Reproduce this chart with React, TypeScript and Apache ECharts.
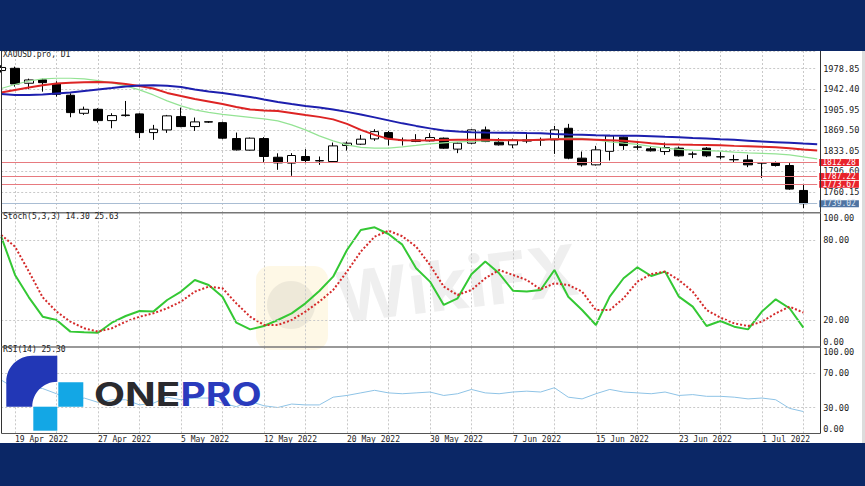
import React, { useEffect, useRef } from 'react';
import * as echarts from 'echarts';

// ---------- data ----------
const dates = [
  '18 Apr 2022', '19 Apr 2022', '20 Apr 2022', '21 Apr 2022', '22 Apr 2022', '25 Apr 2022', '26 Apr 2022', '27 Apr 2022', '28 Apr 2022', '29 Apr 2022',
  '2 May 2022', '3 May 2022', '4 May 2022', '5 May 2022', '6 May 2022', '8 May 2022', '9 May 2022', '10 May 2022', '11 May 2022', '12 May 2022',
  '13 May 2022', '16 May 2022', '17 May 2022', '18 May 2022', '19 May 2022', '20 May 2022', '23 May 2022', '24 May 2022', '25 May 2022', '26 May 2022',
  '27 May 2022', '30 May 2022', '31 May 2022', '1 Jun 2022', '2 Jun 2022', '3 Jun 2022', '6 Jun 2022', '7 Jun 2022', '8 Jun 2022', '9 Jun 2022',
  '10 Jun 2022', '13 Jun 2022', '14 Jun 2022', '15 Jun 2022', '16 Jun 2022', '17 Jun 2022', '20 Jun 2022', '21 Jun 2022', '22 Jun 2022', '23 Jun 2022',
  '24 Jun 2022', '27 Jun 2022', '28 Jun 2022', '29 Jun 2022', '30 Jun 2022', '1 Jul 2022', '4 Jul 2022', '5 Jul 2022', '6 Jul 2022', '7 Jul 2022',
];

const opens = [
  1975.5, 1979.5, 1953.0, 1959.0, 1951.7, 1931.6, 1899.6, 1906.7, 1886.6, 1895.5,
  1898.5, 1865.3, 1870.0, 1893.7, 1876.0, 1884.5, 1883.0, 1854.7, 1834.1, 1854.7,
  1821.5, 1811.1, 1822.8, 1815.0, 1813.9, 1842.3, 1844.7, 1854.1, 1865.3, 1851.2,
  1849.6, 1850.6, 1855.4, 1835.9, 1846.5, 1870.1, 1848.3, 1843.5, 1850.2, 1852.0,
  1852.4, 1873.0, 1819.9, 1808.0, 1832.0, 1857.2, 1839.4, 1836.4, 1831.6, 1837.6,
  1827.0, 1837.6, 1822.1, 1817.0, 1816.8, 1811.2, 1812.1, 1806.8, 1762.5,
];
const closes = [
  1981.0, 1951.7, 1958.8, 1954.0, 1933.4, 1900.8, 1906.7, 1886.6, 1895.5, 1896.5,
  1865.3, 1871.3, 1895.0, 1876.0, 1884.3, 1884.0, 1855.4, 1834.6, 1855.4, 1822.8,
  1811.5, 1824.6, 1815.7, 1815.6, 1841.7, 1846.5, 1853.6, 1867.0, 1854.1, 1851.7,
  1852.4, 1856.5, 1837.6, 1846.5, 1870.1, 1849.4, 1843.5, 1852.4, 1852.6, 1852.7,
  1870.1, 1819.9, 1808.0, 1834.6, 1859.5, 1842.3, 1839.7, 1832.9, 1838.7, 1824.0,
  1827.3, 1824.0, 1822.4, 1817.3, 1808.0, 1811.5, 1806.8, 1764.9, 1739.02,
];
const lows = [
  1972.0, 1946.9, 1942.3, 1938.0, 1929.2, 1892.6, 1896.7, 1883.0, 1873.0, 1893.5,
  1855.4, 1852.4, 1864.8, 1874.9, 1868.3, 1882.5, 1853.6, 1833.4, 1833.4, 1812.1,
  1799.2, 1788.5, 1811.1, 1808.0, 1812.1, 1833.4, 1843.5, 1850.6, 1842.3, 1842.3,
  1848.3, 1849.4, 1836.4, 1828.8, 1844.7, 1848.3, 1842.3, 1837.6, 1846.5, 1841.7,
  1827.5, 1818.0, 1805.0, 1806.8, 1815.7, 1834.6, 1834.6, 1831.6, 1825.8, 1822.8,
  1819.9, 1821.7, 1818.0, 1812.1, 1803.9, 1784.5, 1805.0, 1763.7, 1731.2,
];
const highs = [
  1985.0, 1982.4, 1961.1, 1961.0, 1956.5, 1935.2, 1911.4, 1908.6, 1899.7, 1921.5,
  1899.7, 1879.0, 1896.7, 1909.7, 1892.0, 1885.5, 1884.8, 1865.3, 1856.5, 1857.2,
  1828.5, 1828.8, 1835.9, 1822.8, 1847.6, 1849.4, 1861.2, 1871.3, 1868.3, 1856.5,
  1862.5, 1864.3, 1856.5, 1847.6, 1871.3, 1876.0, 1855.4, 1854.7, 1862.5, 1856.5,
  1877.2, 1880.8, 1831.7, 1841.7, 1861.2, 1858.2, 1846.5, 1840.5, 1847.6, 1840.5,
  1831.6, 1839.4, 1830.5, 1825.8, 1825.8, 1812.0, 1813.9, 1811.1, 1772.6,
];

// moving averages (drawn with a one-bar shift, so they reach one bar past the last candle)
const maSlow = [
  1934.0, 1932.2, 1932.2, 1933.1, 1934.9, 1936.6, 1939.3, 1942.0, 1944.6, 1947.3,
  1949.1, 1949.4, 1948.5, 1946.4, 1942.0, 1938.4, 1935.8, 1932.2, 1928.7, 1924.2,
  1919.8, 1916.2, 1912.7, 1910.0, 1906.5, 1902.1, 1897.6, 1892.3, 1887.0, 1881.7,
  1877.2, 1872.8, 1869.2, 1867.1, 1866.0, 1865.3, 1864.8, 1864.8, 1864.5, 1864.3,
  1863.0, 1861.8, 1861.3, 1860.7, 1860.2, 1859.8, 1859.5, 1858.6, 1857.7, 1857.0,
  1855.9, 1854.9, 1853.6, 1852.4, 1851.0, 1849.4, 1848.3, 1847.1, 1845.8, 1844.8,
];
const maMid = [
  1936.6, 1941.1, 1945.5, 1949.4, 1952.6, 1954.0, 1954.9, 1955.3, 1954.4, 1951.7,
  1948.2, 1943.7, 1935.8, 1930.4, 1925.1, 1920.7, 1916.2, 1910.9, 1906.5, 1904.7,
  1903.5, 1900.3, 1896.7, 1893.2, 1888.8, 1880.8, 1870.1, 1861.3, 1854.2, 1851.9,
  1851.1, 1851.5, 1852.0, 1852.4, 1852.4, 1852.4, 1852.0, 1851.5, 1851.5, 1852.4,
  1853.3, 1853.6, 1853.3, 1852.4, 1851.5, 1850.6, 1848.8, 1846.2, 1844.8, 1844.1,
  1843.5, 1843.2, 1842.6, 1841.7, 1841.2, 1840.3, 1839.1, 1837.3, 1835.2, 1833.4,
];
const maFast = [
  1943.7, 1950.8, 1957.0, 1960.6, 1961.8, 1961.8, 1960.6, 1957.6, 1953.5, 1948.2,
  1941.1, 1932.2, 1921.6, 1912.7, 1905.6, 1901.2, 1897.6, 1895.0, 1892.3, 1889.6,
  1886.1, 1879.0, 1870.1, 1859.5, 1850.6, 1843.5, 1839.1, 1837.7, 1837.7, 1840.0,
  1842.6, 1845.3, 1847.1, 1848.8, 1849.7, 1850.6, 1851.0, 1851.5, 1851.9, 1852.4,
  1854.2, 1855.4, 1855.1, 1852.4, 1848.8, 1846.5, 1844.4, 1840.9, 1837.7, 1835.5,
  1834.1, 1833.4, 1832.3, 1830.6, 1829.3, 1828.4, 1827.6, 1825.8, 1822.2, 1818.7,
];

const stochK = [
  82.5, 53.8, 37.0, 22.5, 20.0, 11.3, 10.8, 10.5, 18.0, 23.0,
  26.8, 26.3, 35.0, 41.3, 50.0, 46.3, 37.5, 18.0, 13.0, 15.5,
  20.0, 25.0, 32.5, 41.8, 52.5, 72.5, 87.5, 89.5, 84.5, 76.5,
  58.8, 48.8, 31.3, 36.3, 54.3, 63.8, 55.0, 42.0, 41.3, 42.5,
  57.5, 37.5, 27.5, 16.3, 37.5, 51.3, 59.5, 53.0, 56.3, 37.5,
  30.0, 15.5, 19.3, 15.0, 13.0, 26.3, 35.5, 28.8, 14.3,
];
const stochD = [
  83.8, 75.0, 56.3, 37.0, 26.3, 18.8, 13.8, 11.3, 13.8, 18.8,
  22.5, 25.0, 28.8, 33.8, 41.3, 45.0, 43.8, 32.5, 22.5, 16.3,
  16.3, 20.0, 26.3, 33.8, 42.5, 56.3, 71.3, 82.5, 87.0, 82.8,
  75.0, 61.3, 45.0, 38.8, 42.5, 51.3, 57.5, 53.8, 50.0, 43.0,
  47.5, 46.3, 41.3, 27.5, 27.5, 36.3, 48.8, 54.5, 56.3, 50.0,
  41.3, 27.5, 21.8, 17.5, 15.5, 18.8, 25.0, 30.0, 25.63,
];
const rsi = [
  62, 52, 54, 52, 46, 38, 41, 36, 39, 39,
  33, 35, 42, 39, 41, 41, 35, 31, 37, 32,
  30, 34, 33, 33, 42, 44, 47, 50, 47, 46,
  47, 48, 44, 46, 51, 47, 46, 48, 49, 48,
  53, 42, 40, 46, 51, 48, 47, 46, 48, 44,
  45, 43, 43, 42, 40, 41, 39, 29, 25.3,
];

const levelLines = [1812.28, 1787.22, 1773.67];
const bidPrice = 1739.02;
const priceMin = 1723.7;
const priceMax = 2010.24;
const priceStep = 36.45;
const stochTicks = [0, 20, 80, 100];
const stochLevels = [20, 80];
const rsiTicks = [0, 30, 70, 100];
const rsiLevels = [30, 70];

const MONO = '"DejaVu Sans Mono", monospace';

echarts.graphic.registerShape(
  'oneproArc',
  echarts.graphic.extendPath('M51 0 L26 0 C11.6 0 0 11.6 0 26 L0 51 L26 51 C26 37.2 37.2 26 51 26 Z', {})
);

function buildOption() {
  const candles = opens.map((o, i) => [o, closes[i], lows[i], highs[i]]);
  const gridLine = { show: true, lineStyle: { color: '#c9c9c9', type: [2, 2], width: 1 } };
  const grids = [
    { left: 1.2, top: 51, width: 816, height: 161.3 },
    { left: 1.2, top: 213.3, width: 816, height: 133.4 },
    { left: 1.2, top: 347.3, width: 816, height: 86 },
  ];
  const xAxis = [0, 1, 2].map((gi) => ({
    type: 'category',
    gridIndex: gi,
    data: dates,
    boundaryGap: false,
    axisLine: { show: false },
    axisTick: { show: false },
    axisLabel:
      gi === 2
        ? {
            show: true,
            interval: (i: number) => i % 6 === 1,
            align: 'left',
            margin: 2,
            fontFamily: MONO,
            fontSize: 8,
            color: '#222',
          }
        : { show: false },
    splitLine: { ...gridLine, interval: (i: number) => i % 3 === 1 },
  }));
  const labelBase = { margin: 6, fontFamily: MONO, fontSize: 8.6, color: '#222' };
  const yAxis = [
    {
      type: 'value',
      gridIndex: 0,
      position: 'right',
      min: priceMin,
      max: priceMax,
      interval: priceStep,
      axisLine: { show: false },
      axisTick: { show: false },
      splitLine: gridLine,
      axisLabel: {
        ...labelBase,
        showMinLabel: false,
        showMaxLabel: false,
        formatter: (v: number) => v.toFixed(2),
      },
    },
    {
      type: 'value',
      gridIndex: 1,
      position: 'right',
      min: 0,
      max: 100,
      axisLine: { show: false },
      axisTick: { show: false },
      splitLine: { show: false },
      axisLabel: {
        ...labelBase,
        customValues: stochTicks,
        verticalAlignMinLabel: 'bottom',
        verticalAlignMaxLabel: 'top',
        formatter: (v: number) => v.toFixed(2),
      },
    },
    {
      type: 'value',
      gridIndex: 2,
      position: 'right',
      min: 0,
      max: 100,
      axisLine: { show: false },
      axisTick: { show: false },
      splitLine: { show: false },
      axisLabel: {
        ...labelBase,
        customValues: rsiTicks,
        verticalAlignMinLabel: 'bottom',
        verticalAlignMaxLabel: 'top',
        formatter: (v: number) => v.toFixed(2),
      },
    },
  ];
  const tagLabel = (bg: string, fg: string) => ({
    show: true,
    position: 'end',
    distance: 2,
    formatter: (p: any) => Number(p.value).toFixed(2),
    backgroundColor: bg,
    color: fg,
    fontFamily: MONO,
    fontSize: 8,
    lineHeight: 7,
    padding: [0, 3, 0, 3],
  });
  const levelMark = (levels: number[]) => ({
    symbol: ['none', 'none'],
    silent: true,
    label: { show: false },
    lineStyle: { color: '#c9c9c9', type: [2, 2], width: 1 },
    data: levels.map((v) => ({ yAxis: v })),
  });
  const series: any[] = [
    {
      type: 'candlestick',
      xAxisIndex: 0,
      yAxisIndex: 0,
      data: candles,
      barWidth: 9,
      z: 2,
      itemStyle: {
        color: '#ffffff',
        color0: '#000000',
        borderColor: '#000000',
        borderColor0: '#000000',
        borderWidth: 1,
      },
      markLine: {
        symbol: ['none', 'none'],
        silent: true,
        data: [
          ...levelLines.map((v) => ({
            yAxis: v,
            lineStyle: { color: '#e77a7f', width: 1, type: 'solid' },
            label: tagLabel('#e8232c', '#ffffff'),
          })),
          {
            yAxis: bidPrice,
            lineStyle: { color: '#a9bdd3', width: 1, type: 'solid' },
            label: tagLabel('#4f74a3', '#dde6f2'),
          },
        ],
      },
    },
    { type: 'line', xAxisIndex: 0, yAxisIndex: 0, data: maFast, showSymbol: false, z: 3, lineStyle: { color: '#94e394', width: 1.2 } },
    { type: 'line', xAxisIndex: 0, yAxisIndex: 0, data: maMid, showSymbol: false, z: 3, lineStyle: { color: '#dd2424', width: 2 } },
    { type: 'line', xAxisIndex: 0, yAxisIndex: 0, data: maSlow, showSymbol: false, z: 3, lineStyle: { color: '#1d1fae', width: 2 } },
    {
      type: 'line', xAxisIndex: 1, yAxisIndex: 1, data: stochK, showSymbol: false, z: 3,
      lineStyle: { color: '#34c834', width: 2 },
      markLine: levelMark(stochLevels),
    },
    {
      type: 'line', xAxisIndex: 1, yAxisIndex: 1, data: stochD, showSymbol: false, z: 4,
      lineStyle: { color: '#d42a2a', width: 2, type: 'dotted' },
    },
    {
      type: 'line', xAxisIndex: 2, yAxisIndex: 2, data: rsi, showSymbol: false, z: 3,
      lineStyle: { color: '#8ec3e6', width: 1 },
      markLine: levelMark(rsiLevels),
    },
  ];

  const txt = (x: number, y: number, text: string, font: string, fill: string, extra: any = {}) => ({
    type: 'text',
    x,
    y,
    z: 100,
    silent: true,
    ...extra,
    style: { text, font, fill, verticalAlign: 'middle', textVerticalAlign: 'middle' },
  });
  const hline = (y: number, color: string, w = 1) => ({
    type: 'line',
    z: 50,
    silent: true,
    shape: { x1: 1.5, y1: y, x2: 820.5, y2: y },
    style: { stroke: color, lineWidth: w },
  });
  const vline = (x: number, color: string) => ({
    type: 'line',
    z: 50,
    silent: true,
    shape: { x1: x, y1: 51, x2: x, y2: 433.5 },
    style: { stroke: color, lineWidth: 1 },
  });

  const graphic = [
    // watermark
    { type: 'rect', z: 0, silent: true, shape: { x: 256, y: 266, width: 72, height: 84, r: 14 }, style: { fill: 'rgba(250,222,140,0.22)' } },
    { type: 'circle', z: 0, silent: true, shape: { cx: 291, cy: 305, r: 24 }, style: { fill: 'rgba(150,150,150,0.15)' } },
    txt(336, 298, 'WikiFX', 'bold 70px Inter', 'rgba(150,150,150,0.15)', { rotation: 0.12, z: 0 }),
    // frame
    { type: 'rect', z: 60, silent: true, shape: { x: 0, y: 0, width: 865, height: 51 }, style: { fill: '#0b2766' } },
    { type: 'rect', z: 60, silent: true, shape: { x: 0, y: 443, width: 865, height: 43 }, style: { fill: '#0b2766' } },
    { type: 'rect', z: 60, silent: true, shape: { x: 862, y: 51, width: 3, height: 392 }, style: { fill: '#dcdcdc' } },
    vline(1.5, '#333'),
    vline(820.5, '#333'),
    hline(212.8, '#777', 1.5),
    hline(347, '#777', 1.5),
    hline(433.5, '#555', 1),
    // titles
    txt(3, 54.7, 'XAUUSD.pro, D1', `8px ${MONO}`, '#222'),
    txt(3, 216.2, 'Stoch(5,3,3) 14.30 25.63', `8px ${MONO}`, '#222'),
    txt(3, 349.6, 'RSI(14) 25.30', `8px ${MONO}`, '#222'),
    // ONEPRO logo
    { type: 'oneproArc', x: 6.3, y: 355.7, z: 100, silent: true, style: { fill: '#2237b6' } },
    { type: 'rect', z: 100, silent: true, shape: { x: 58.3, y: 382.2, width: 25, height: 24.5 }, style: { fill: '#13a7e5' } },
    { type: 'rect', z: 100, silent: true, shape: { x: 33.3, y: 406.7, width: 24, height: 24 }, style: { fill: '#13a7e5' } },
    txt(94, 394.6, 'ONE', 'bold 32px Inter', '#2a2a2e', { scaleX: 1.26 }),
    txt(180.5, 394.6, 'PRO', 'bold 32px Inter', '#2a3bbd', { scaleX: 1.22 }),
  ];

  return {
    animation: false,
    backgroundColor: '#ffffff',
    textStyle: { fontFamily: MONO },
    grid: grids,
    xAxis,
    yAxis,
    series,
    graphic,
  };
}

export default function App() {
  const ref = useRef<HTMLDivElement>(null);
  useEffect(() => {
    document.body.style.margin = '0';
    const chart = echarts.init(ref.current as HTMLDivElement, undefined, { renderer: 'svg', width: 865, height: 486 });
    chart.setOption(buildOption() as any);
    return () => chart.dispose();
  }, []);
  return <div ref={ref} style={{ width: 865, height: 486, position: 'fixed', left: 0, top: 0 }} />;
}
